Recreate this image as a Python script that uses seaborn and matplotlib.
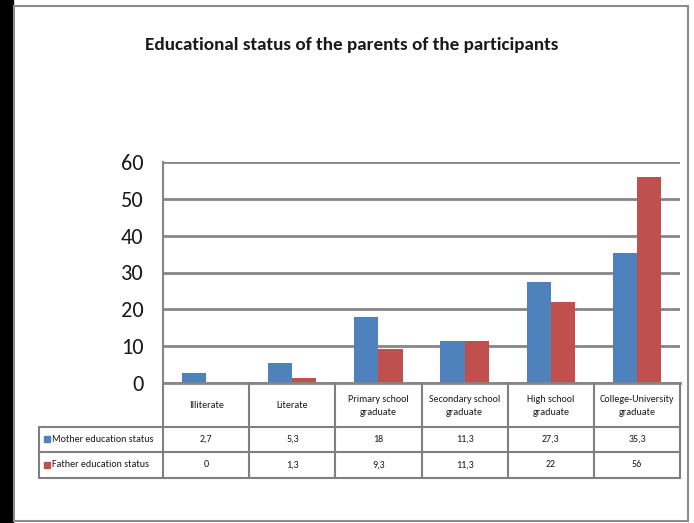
import matplotlib
matplotlib.use("Agg")
import matplotlib.pyplot as plt
import seaborn as sns
import pandas as pd
from matplotlib.patches import Rectangle

categories = ["Illiterate", "Literate", "Primary school\ngraduate", "Secondary school\ngraduate",
              "High school\ngraduate", "College-University\ngraduate"]
mother = [2.7, 5.3, 18, 11.3, 27.3, 35.3]
father = [0, 1.3, 9.3, 11.3, 22, 56]
mother_labels = ["2,7", "5,3", "18", "11,3", "27,3", "35,3"]
father_labels = ["0", "1,3", "9,3", "11,3", "22", "56"]
series = ["Mother education status", "Father education status"]
yticks = [0, 10, 20, 30, 40, 50, 60]
title = "Educational status of the parents of the participants"

BLUE = "#4F81BD"
RED = "#C0504D"
GRID = "#868686"

df = pd.DataFrame({
    "cat": categories * 2,
    "series": [series[0]] * 6 + [series[1]] * 6,
    "value": mother + father,
})

sns.set_theme(style="white")
import logging
logging.getLogger("matplotlib.font_manager").setLevel(logging.ERROR)
FONT = ["Carlito", "Open Sans", "DejaVu Sans"]
plt.rcParams["font.family"] = FONT

W, H = 694, 523
fig = plt.figure(figsize=(W / 100, H / 100), dpi=100)

def fx(px):
    return px / W

def fy(py):
    return 1 - py / H

# outer frame and left dark strip
fig.patches.append(Rectangle((0, 0), fx(13), 1, transform=fig.transFigure, color="black", zorder=0))
fig.patches.append(Rectangle((fx(14), fy(521)), fx(688) - fx(14), fy(6) - fy(521), transform=fig.transFigure,
                             fill=False, edgecolor="#8c8c8c", linewidth=1.5, zorder=1))

ax = fig.add_axes([fx(163), fy(383), fx(680) - fx(163), fy(162) - fy(383)])
sns.barplot(data=df, x="cat", y="value", hue="series", order=categories, hue_order=series,
            palette=[BLUE, RED], width=0.56, saturation=1, legend=False, ax=ax, edgecolor="none")
ax.set_xlim(-0.5, 5.5)
ax.set_ylim(0, 60)
ax.set_yticks(yticks)
ax.set_yticklabels([str(v) for v in yticks], fontsize=16, color="#1a1a1a")
ax.tick_params(axis="y", length=0, pad=14)
ax.set_xticks([])
ax.set_xlabel("")
ax.set_ylabel("")
ax.yaxis.grid(True, color=GRID, linewidth=2)
ax.set_axisbelow(True)
for s in ["top", "right"]:
    ax.spines[s].set_visible(False)
ax.spines["left"].set_color(GRID)
ax.spines["left"].set_linewidth(1.5)
ax.spines["bottom"].set_color(GRID)
ax.spines["bottom"].set_linewidth(2)

fig.text(fx(352), fy(45), title, ha="center", va="center", fontsize=13.8, fontweight="bold",
         family=FONT, color="#1a1a1a")

# data table
leg_w = (163 - 39) / 86.0
tax = fig.add_axes([fx(39), fy(478), fx(680) - fx(39), fy(383) - fy(478)])
tax.set_xlim(-0.5 - leg_w, 5.5)
tax.set_ylim(478, 383)
tax.axis("off")
lc = "#7f7f7f"
lw = 1.5
x_left = -0.5 - leg_w
for yy in [427, 452, 478]:
    tax.plot([x_left, 5.5], [yy, yy], color=lc, lw=lw, clip_on=False)
tax.plot([x_left, x_left], [427, 478], color=lc, lw=lw, clip_on=False)
for i in range(7):
    xb = i - 0.5
    tax.plot([xb, xb], [383, 478], color=lc, lw=lw, clip_on=False)

fs = 7.2
for i, c in enumerate(categories):
    tax.text(i, 406, c, ha="center", va="center", fontsize=fs, family=FONT, color="#1a1a1a", linespacing=1.6)
    tax.text(i, 439.5, mother_labels[i], ha="center", va="center", fontsize=fs, family=FONT, color="#1a1a1a")
    tax.text(i, 465, father_labels[i], ha="center", va="center", fontsize=fs, family=FONT, color="#1a1a1a")

for yy, name, col in [(439.5, series[0], BLUE), (465, series[1], RED)]:
    tax.add_patch(Rectangle((x_left + 0.06, yy - 3), 0.07, 6, color=col, clip_on=False))
    tax.text(x_left + 0.15, yy, name, ha="left", va="center", fontsize=fs, family=FONT, color="#1a1a1a")

fig.savefig("out.png", dpi=100)
